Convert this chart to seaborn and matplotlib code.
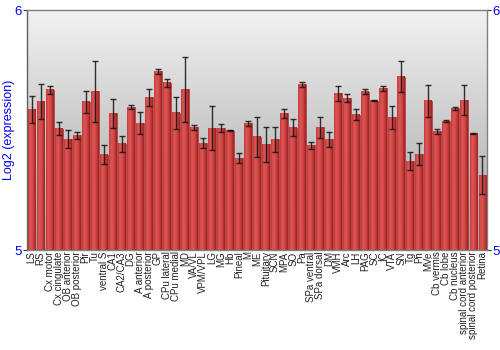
import numpy as np
import pandas as pd
import matplotlib
matplotlib.use("Agg")
import matplotlib.pyplot as plt
import seaborn as sns

regions = ["LS", "RS", "Cx motor", "Cx cingulate", "OB anterior", "OB posterior", "Pir", "Tu",
           "ventral S", "CA1", "CA2/CA3", "DG", "A anterior", "A posterior", "GP", "CPu lateral",
           "CPu medial", "MD", "VA/VL", "VPM/VPL", "LG", "MG", "Hb", "Pineal", "M", "ME",
           "Pituitary", "SCN", "MPA", "SO", "Pa", "SPa ventral", "SPa dorsal", "DM", "VMH", "Arc",
           "LH", "PAG", "SC", "IC", "VTA", "SN", "Tg", "Pn", "MVe", "Cb vermis", "Cb lobe",
           "Cb nucleus", "spinal cord anterior", "spinal cord posterior", "Retina"]
expression = [5.586, 5.617, 5.667, 5.505, 5.461, 5.478, 5.617, 5.661,
              5.397, 5.570, 5.442, 5.595, 5.528, 5.637, 5.745, 5.696,
              5.571, 5.669, 5.511, 5.444, 5.508, 5.508, 5.497, 5.382, 5.528, 5.471,
              5.440, 5.461, 5.569, 5.510, 5.690, 5.436, 5.511, 5.461, 5.653, 5.633,
              5.564, 5.660, 5.621, 5.674, 5.553, 5.722, 5.370, 5.399, 5.621, 5.494, 5.537,
              5.590, 5.624, 5.485, 5.311]
error = [0.055, 0.073, 0.018, 0.027, 0.037, 0.015, 0.045, 0.128,
         0.040, 0.060, 0.033, 0.008, 0.045, 0.035, 0.010, 0.018,
         0.065, 0.137, 0.009, 0.021, 0.090, 0.017, 0.002, 0.021, 0.011, 0.083,
         0.072, 0.051, 0.020, 0.036, 0.010, 0.015, 0.044, 0.031, 0.032, 0.016,
         0.024, 0.010, 0.002, 0.010, 0.047, 0.065, 0.037, 0.045, 0.067, 0.010, 0.003,
         0.006, 0.062, 0.002, 0.079]
y_ticks = [5, 6]

df = pd.DataFrame({"region": regions, "expression": expression})

sns.set_theme(style="white")
plt.rcParams['font.family'] = ['Liberation Sans', 'DejaVu Sans']

fig = plt.figure(figsize=(5, 3.5), dpi=100)
ax = fig.add_axes([0.054, 0.2857, 0.92, 0.6857])

sns.barplot(data=df, x="region", y="expression", color="#c83a3a", width=0.88,
            saturation=1, ax=ax, errorbar=None, edgecolor="#a02828", linewidth=0.4, zorder=2)

n = len(regions)
ymin, ymax = 5, 6

# background vertical gradient (light at top, darker at bottom)
bg = np.linspace(0, 1, 256).reshape(-1, 1)
ax.imshow(bg, cmap=matplotlib.colors.LinearSegmentedColormap.from_list("bg", ["#f2f2f2", "#a2a2a2"]),
          extent=[-0.5, n - 0.5, ymin, ymax], origin="upper", aspect="auto", zorder=0)

# bar horizontal gradient
grad = np.array([[0.55, 0.75, 0.85, 0.8, 0.7, 0.55, 0.4, 0.25]])
bar_cmap = matplotlib.colors.LinearSegmentedColormap.from_list("bar", ["#7a1414", "#c83a3a", "#e06060"])
for p in list(ax.patches):
    x0 = p.get_x()
    w = p.get_width()
    top = p.get_y() + p.get_height()
    ax.imshow(grad, cmap=bar_cmap, vmin=0, vmax=1, extent=[x0, x0 + w, ymin, top],
              aspect="auto", zorder=2.5)

ax.set_xlim(-0.5, n - 0.5)
ax.set_ylim(ymin, ymax)

ax.errorbar(np.arange(n), expression, yerr=error, fmt="none",
            ecolor="#111111", elinewidth=1.0, capsize=2.2, capthick=1.0, alpha=0.85, zorder=3)

ax.set_yticks(y_ticks)
ax.set_yticklabels([str(t) for t in y_ticks], color="blue", fontsize=9.5)
ax.tick_params(axis="y", which="both", left=True, right=True, labelleft=True, labelright=True,
               length=3, width=0.8, color="#333333", pad=1)
ax.tick_params(axis="x", length=0, pad=1)
ax.set_xticks(np.arange(n))
ax.set_xticklabels(regions, rotation=90, fontsize=7, color="#222222")
ax.set_xlabel("")
ax.set_ylabel("Log2 (expression)", color="blue", fontsize=9)
ax.yaxis.set_label_coords(-0.027, 0.5)

for s in ["top", "left", "right", "bottom"]:
    ax.spines[s].set_visible(True)
    ax.spines[s].set_color("#808080")
    ax.spines[s].set_linewidth(1)
ax.spines["left"].set_color("#606060")

fig.savefig("out.png", dpi=100)
